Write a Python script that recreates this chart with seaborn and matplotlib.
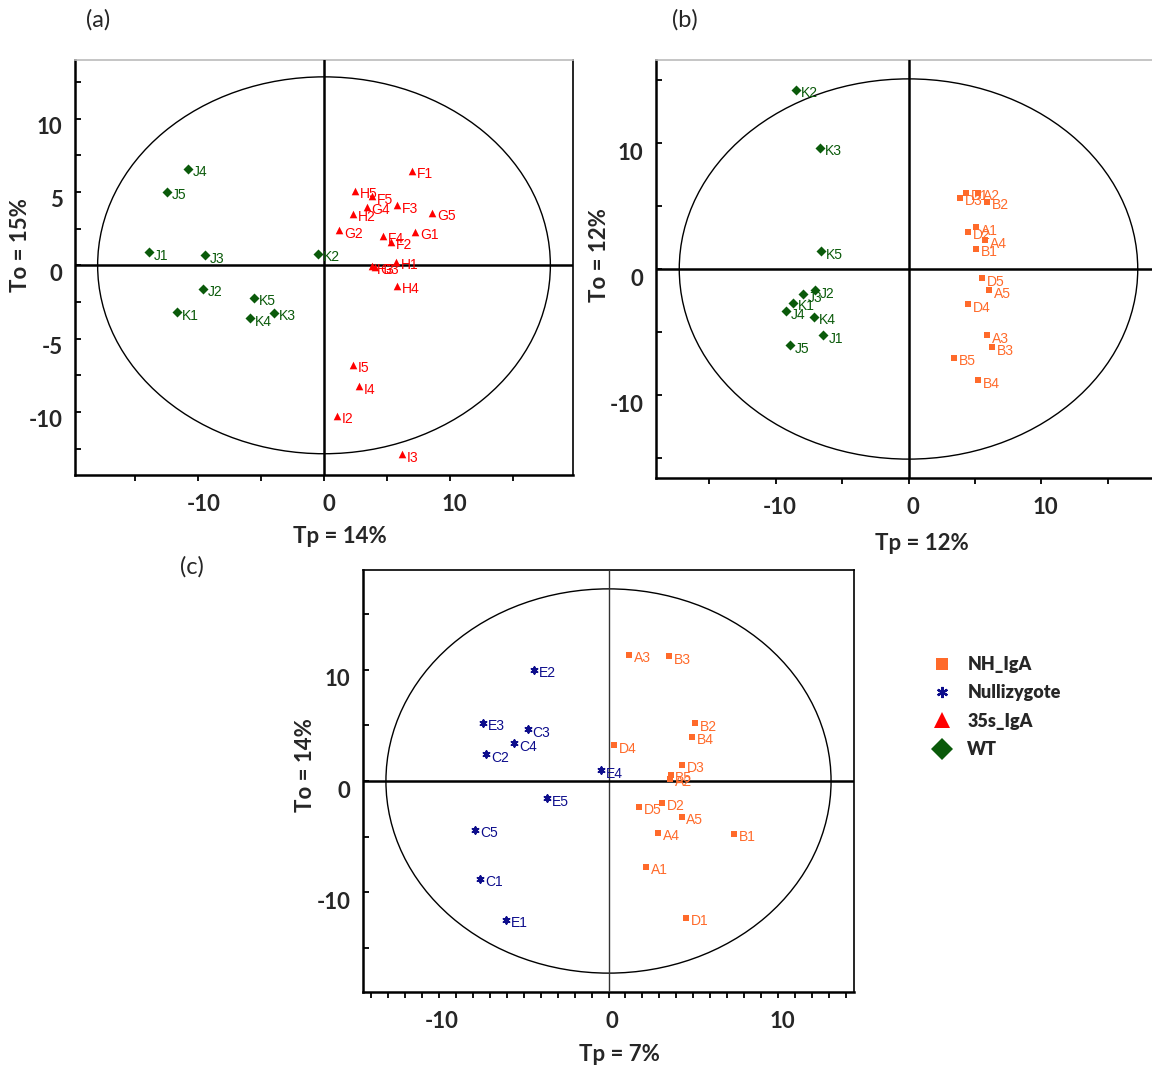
import numpy as np
import pandas as pd
import matplotlib
matplotlib.use("Agg")
import matplotlib.pyplot as plt
from matplotlib.patches import Ellipse
from matplotlib.lines import Line2D
from matplotlib.transforms import ScaledTranslation
import seaborn as sns

# ---------------- data ----------------
# Panel (a): 35s_IgA (red) vs WT (green)
a_wt_labels = ["J4", "J5", "J1", "J3", "K2", "J2", "K5", "K1", "K4", "K3"]
a_wt_tp = [-10.8, -12.5, -13.9, -9.5, -0.45, -9.6, -5.6, -11.7, -5.9, -4.0]
a_wt_to = [6.6, 5.0, 0.9, 0.7, 0.8, -1.6, -2.2, -3.2, -3.6, -3.25]

a_35s_labels = ["F1", "H5", "F5", "G4", "F3", "G5", "H2", "G2", "F4", "G1", "F2",
                "H1", "H3", "G3", "H4", "I5", "I4", "I2", "I3"]
a_35s_tp = [7.0, 2.5, 3.8, 3.4, 5.8, 8.6, 2.3, 1.2, 4.7, 7.25, 5.3,
            5.7, 3.8, 4.05, 5.8, 2.3, 2.8, 1.0, 6.2]
a_35s_to = [6.45, 5.1, 4.7, 4.0, 4.1, 3.6, 3.5, 2.4, 2.0, 2.3, 1.6,
            0.25, -0.05, -0.1, -1.4, -6.8, -8.25, -10.25, -12.9]

# Panel (b): NH_IgA (orange) vs WT (green)
b_wt_labels = ["K2", "K3", "K5", "J2", "J3", "K1", "J4", "K4", "J1", "J5"]
b_wt_tp = [-8.45, -6.65, -6.55, -7.05, -7.95, -8.7, -9.25, -7.1, -6.4, -8.9]
b_wt_to = [14.25, 9.65, 1.4, -1.7, -2.0, -2.7, -3.35, -3.8, -5.25, -6.05]

b_nh_labels = ["D1", "D3", "A2", "B2", "A1", "D2", "A4", "B1", "D5", "A5",
               "D4", "A3", "B3", "B5", "B4"]
b_nh_tp = [4.3, 3.9, 5.25, 5.9, 5.1, 4.5, 5.75, 5.1, 5.5, 6.05,
           4.45, 5.9, 6.25, 3.45, 5.2]
b_nh_to = [6.05, 5.65, 6.05, 5.35, 3.3, 2.95, 2.3, 1.6, -0.75, -1.7,
           -2.8, -5.25, -6.2, -7.05, -8.85]

# Panel (c): NH_IgA (orange) vs Nullizygote (navy)
c_null_labels = ["E2", "E3", "C3", "C4", "C2", "E4", "E5", "C5", "C1", "E1"]
c_null_tp = [-4.4, -7.4, -4.75, -5.55, -7.2, -0.45, -3.6, -7.85, -7.55, -6.05]
c_null_to = [10.0, 5.25, 4.65, 3.4, 2.4, 0.95, -1.55, -4.4, -8.8, -12.5]

c_nh_labels = ["A3", "B3", "B2", "B4", "D4", "D3", "B5", "A2", "D2", "D5",
               "A5", "A4", "B1", "A1", "D1"]
c_nh_tp = [1.2, 3.55, 5.1, 4.9, 0.35, 4.3, 3.65, 3.6, 3.15, 1.8,
           4.3, 2.9, 7.4, 2.2, 4.55]
c_nh_to = [11.35, 11.25, 5.2, 4.0, 3.2, 1.45, 0.55, 0.2, -1.95, -2.3,
           -3.2, -4.65, -4.75, -7.7, -12.3]

group_names = ["NH_IgA", "Nullizygote", "35s_IgA", "WT"]
group_colors = {"NH_IgA": "#ff6a2a", "Nullizygote": "#0d0d8c",
                "35s_IgA": "#ff0000", "WT": "#0a5a0a"}
group_markers = {"NH_IgA": "s", "Nullizygote": (6, 2, 0),
                 "35s_IgA": "^", "WT": "D"}
group_sizes = {"NH_IgA": 24, "Nullizygote": 22, "35s_IgA": 30, "WT": 26}

# ---------------- style ----------------
sns.set_style("white")
plt.rcParams["font.family"] = ["Lato", "DejaVu Sans"]

W, H = 1152, 1070
fig = plt.figure(figsize=(W / 100, H / 100), dpi=100)


def px_axes(left, right, top, bottom):
    return fig.add_axes([left / W, 1 - bottom / H, (right - left) / W, (bottom - top) / H])


def draw_group(ax, labels, tp, to, group):
    df = pd.DataFrame({"Tp": tp, "To": to, "label": labels})
    m = group_markers[group]
    kw = dict(data=df, x="Tp", y="To", ax=ax, color=group_colors[group],
              marker=m, s=group_sizes[group], legend=False, zorder=4)
    if isinstance(m, tuple):
        kw["linewidth"] = 1.4
        kw["edgecolor"] = group_colors[group]
    else:
        kw["linewidth"] = 0
    sns.scatterplot(**kw)
    for lab, x, y in zip(labels, tp, to):
        ax.annotate(lab, (x, y), xytext=(3.5, -2.5), textcoords="offset points",
                    ha="left", va="center", fontsize=10, color=group_colors[group],
                    family=["Liberation Sans", "DejaVu Sans"], zorder=5)


def style_axes(ax, xlim, ylim, xmaj, xmin, ymaj, ymin, ell, xlab, ylab,
               xlab_pos, ylab_pos, lab_shift, vline_lw=1.8, vline_color="black",
               top_color="#bbbbbb"):
    ax.set_xlim(*xlim)
    ax.set_ylim(*ylim)
    ax.add_patch(Ellipse((0, 0), 2 * ell[0], 2 * ell[1], fill=False,
                         edgecolor="black", lw=1.0, zorder=2))
    ax.axvline(0, color=vline_color, lw=vline_lw, zorder=3)
    ax.axhline(0, color="black", lw=1.8, zorder=3)
    ax.set_xticks(xmaj)
    ax.set_xticks(xmin, minor=True)
    ax.set_yticks(ymaj)
    ax.set_yticks(ymin, minor=True)
    ax.set_xticklabels([f"{v:g}" for v in xmaj])
    ax.set_yticklabels([f"{v:g}" for v in ymaj])
    ax.tick_params(axis="x", which="both", direction="out", length=4, width=1.3,
                   color="black", pad=10, bottom=True)
    ax.tick_params(axis="y", which="both", direction="in", length=4, width=1.3,
                   color="black", pad=9, left=True)
    xdx, ydy = lab_shift
    offx = ScaledTranslation(xdx / 100, 0, fig.dpi_scale_trans)
    offy = ScaledTranslation(0, -ydy / 100, fig.dpi_scale_trans)
    for lbl in ax.get_xticklabels():
        lbl.set_fontweight("bold")
        lbl.set_fontsize(16)
        lbl.set_transform(lbl.get_transform() + offx)
    for lbl in ax.get_yticklabels():
        lbl.set_fontweight("bold")
        lbl.set_fontsize(16)
        lbl.set_transform(lbl.get_transform() + offy)
    for side in ["left", "bottom"]:
        ax.spines[side].set_color("black")
        ax.spines[side].set_linewidth(1.8)
    ax.spines["right"].set_color("black")
    ax.spines["right"].set_linewidth(1.2)
    ax.spines["top"].set_color(top_color)
    ax.spines["top"].set_linewidth(1.2)
    ax.set_xlabel(xlab, fontsize=16, fontweight="bold")
    ax.set_ylabel(ylab, fontsize=16, fontweight="bold")
    ax.xaxis.set_label_coords(*xlab_pos)
    ax.xaxis.label.set_verticalalignment("center")
    ax.yaxis.set_label_coords(*ylab_pos)
    ax.yaxis.label.set_verticalalignment("center")


# ---------------- panel (a) ----------------
ax_a = px_axes(75, 573, 60, 475)
draw_group(ax_a, a_wt_labels, a_wt_tp, a_wt_to, "WT")
draw_group(ax_a, a_35s_labels, a_35s_tp, a_35s_to, "35s_IgA")
style_axes(ax_a, (-19.8, 19.8), (-14.3, 14.0),
           [-10, 0, 10], [-15, -5, 5, 15],
           [-10, -5, 0, 5, 10], [-12.5, -7.5, -2.5, 2.5, 7.5, 12.5],
           (18.0, 12.85), "Tp = 14%", "To = 15%",
           (0.532, -0.149), (-0.110, 0.554), (5, 7))

# ---------------- panel (b) ----------------
ax_b = px_axes(656, 1161, 60, 478)
draw_group(ax_b, b_wt_labels, b_wt_tp, b_wt_to, "WT")
draw_group(ax_b, b_nh_labels, b_nh_tp, b_nh_to, "NH_IgA")
style_axes(ax_b, (-19.0, 19.0), (-16.6, 16.6),
           [-10, 0, 10], [-15, -5, 5, 15],
           [-10, 0, 10], [-15, -5, 5, 15],
           (17.25, 15.1), "Tp = 12%", "To = 12%",
           (0.527, -0.156), (-0.111, 0.533), (4, 8.5))
ax_b.spines["right"].set_visible(False)

# ---------------- panel (c) ----------------
ax_c = px_axes(363, 854, 570, 992)
draw_group(ax_c, c_null_labels, c_null_tp, c_null_to, "Nullizygote")
draw_group(ax_c, c_nh_labels, c_nh_tp, c_nh_to, "NH_IgA")
style_axes(ax_c, (-14.45, 14.45), (-19.0, 19.0),
           [-10, 0, 10], [v for v in range(-14, 15) if v not in (-10, 0, 10)],
           [-10, 0, 10], [-15, -5, 5, 15],
           (13.1, 17.3), "Tp = 7%", "To = 14%",
           (0.523, -0.149), (-0.118, 0.538), (3.5, 8),
           vline_lw=1.0, vline_color="#333333", top_color="black")

# ---------------- legend ----------------
handles = []
leg_sizes = {"NH_IgA": 8, "Nullizygote": 8, "35s_IgA": 11, "WT": 11}
for g in group_names:
    m = group_markers[g]
    handles.append(Line2D([0], [0], linestyle="none", marker=m,
                          markersize=leg_sizes[g], color=group_colors[g],
                          markeredgecolor=group_colors[g],
                          markeredgewidth=1.6 if isinstance(m, tuple) else 0))
fig.legend(handles, group_names, loc="upper left",
           bbox_to_anchor=(915 / W, 1 - 640 / H), frameon=False,
           prop={"family": ["Lato", "DejaVu Sans"], "weight": "heavy", "size": 13},
           handletextpad=0.8, labelspacing=0.62, handlelength=1.2)

# ---------------- panel tags ----------------
fig.text(98 / W, 1 - 20 / H, "(a)", fontsize=17, ha="center", va="center")
fig.text(685 / W, 1 - 20 / H, "(b)", fontsize=17, ha="center", va="center")
fig.text(192 / W, 1 - 567 / H, "(c)", fontsize=17, ha="center", va="center")

fig.savefig("out.png", dpi=100)
